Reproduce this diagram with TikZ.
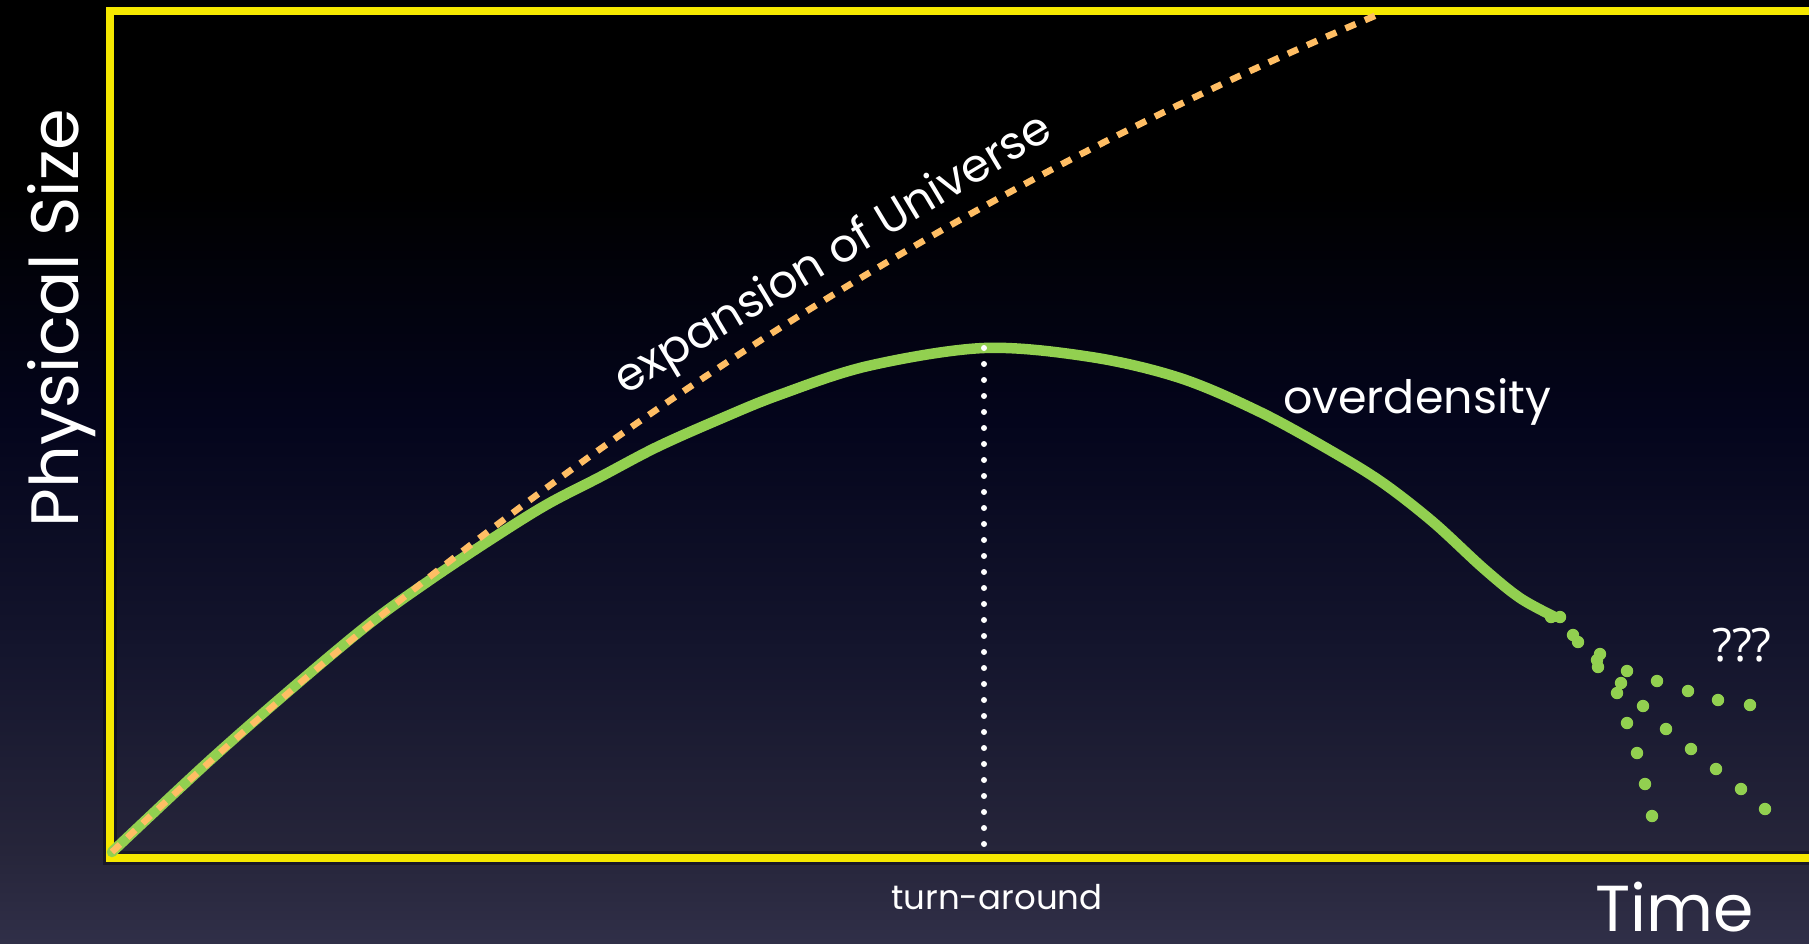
\documentclass[tikz,border=0pt]{standalone}
\usepackage{fontspec}
\setmainfont{Poppins}
\newfontfamily\qfont{Open Sans}
\definecolor{frameyellow}{RGB}{245,232,0}
\definecolor{ovgreen}{RGB}{146,208,80}
\definecolor{exporange}{RGB}{255,190,100}
\definecolor{bgA}{RGB}{48,47,72}
\definecolor{bgB}{RGB}{38,37,58}
\definecolor{bgC}{RGB}{20,21,45}
\definecolor{bgD}{RGB}{4,5,28}
\pgfdeclareverticalshading{skybg}{100bp}{color(0bp)=(bgA); color(25bp)=(bgA); color(29.9bp)=(bgB); color(40.5bp)=(bgC); color(52.7bp)=(bgD); color(65bp)=(black); color(100bp)=(black)}
\begin{document}
\begin{tikzpicture}[x=1pt,y=-1pt,
  frameline/.style={draw=frameyellow,line width=8pt},
  frameshadow/.style={draw=black,opacity=0.35,line width=14pt},
  overdens/.style={draw=ovgreen,line width=10.5pt,line cap=round,line join=round},
  expansion/.style={draw=exporange,line width=6.5pt,dash pattern=on 11pt off 10pt},
  turnline/.style={draw=white,line width=6pt,line cap=round,dash pattern=on 0pt off 16pt},
  blob/.style={fill=ovgreen},
  txt/.style={text=white,inner sep=0pt},
]
\useasboundingbox (0,0) rectangle (1809,943);
\shade[shading=skybg] (0,0) rectangle (1809,943);
\clip (0,0) rectangle (1809,943);
% frame
\coordinate (TL) at (110,11);
\coordinate (BL) at (110,858);
\coordinate (TR) at (1840,11);
\coordinate (BR) at (1840,858);
\draw[frameshadow] (TR) -- (TL) -- (BL) -- (BR);
\draw[frameline] (TR) -- (TL) -- (BL) -- (BR);
% key points
\coordinate (O) at (112,852);
\coordinate (P) at (984,348);
\coordinate (Pb) at (984,850);
\coordinate (E) at (1377,15);
% overdensity curve
\draw[overdens] plot[smooth,tension=0.55] coordinates {
  (112,852) (207,763) (290,690) (369,624) (430,580) (490,540) (546,505) (600,477)
  (657,447) (720,419) (779,395) (868,366) (984,348) (1091,357) (1180,378) (1260,412)
  (1333,452) (1383,483) (1433,522) (1483,568) (1520,598) (1555,617)};
% expansion
\draw[expansion] (O) .. controls (497,487) and (918,208) .. (E);
% turn-around dotted line
\draw[turnline] (P) -- (Pb);
% scatter of green dots
\foreach \p in {(1551,617),(1560,617),(1573,635),(1578,642),(1600,654),(1597,660),(1598,667),
  (1627,671),(1621,683),(1617,693),(1657,681),(1688,691),(1718,700),(1750,705),
  (1643,706),(1666,729),(1691,749),(1716,769),(1741,789),(1765,809),
  (1627,723),(1637,753),(1645,784),(1652,816)}
  \fill[blob] \p circle (6.2pt);
% labels
\node[txt,rotate=90,anchor=base,font=\fontsize{67}{70}\selectfont] (ylab) at (78,318) {Physical Size};
\node[txt,anchor=base,text depth=0pt,font=\fontsize{65}{68}\selectfont] (xlab) at (1675,931) {Time};
\node[txt,anchor=base,font=\fontsize{34}{38}\selectfont] (turn) at (997,909) {turn-around};
\node[txt,anchor=base,font=\fontsize{46}{50}\selectfont] (od) at (1417,413) {overdensity};
\node[txt,anchor=base,rotate=31,font=\fontsize{46}{50}\selectfont] (exp) at (840,266) {expansion of Universe};
\node[txt,font=\qfont\fontsize{46}{50}\selectfont] (q) at (1742,645) {???};
\end{tikzpicture}
\end{document}
